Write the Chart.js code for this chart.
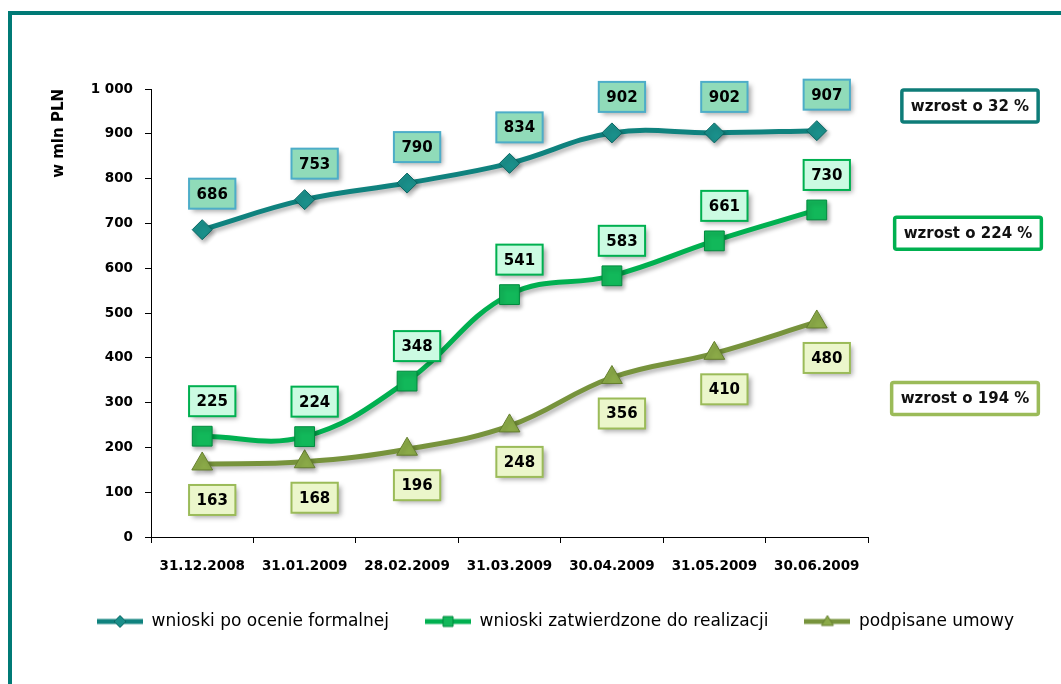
<!DOCTYPE html>
<html lang="pl">
<head>
<meta charset="UTF-8">
<title>Wnioski i umowy</title>
<script src="https://cdn.jsdelivr.net/npm/chart.js@4.4.1/dist/chart.umd.min.js"></script>
<style>
  body { margin: 0; background: #fff; }
  #wrap { position: relative; width: 1061px; height: 684px; overflow: hidden; }
  #frame {
    position: absolute; left: 8px; top: 11px; width: 1100px; height: 700px;
    border-top: 4px solid #007A76; border-left: 4px solid #007A76;
    pointer-events: none;
  }
</style>
</head>
<body>
<div id="wrap">
  <canvas id="chart"></canvas>
  <div id="frame"></div>
</div>
<script>
// data
const dates = ['31.12.2008', '31.01.2009', '28.02.2009', '31.03.2009', '30.04.2009', '31.05.2009', '30.06.2009'];
const seriesNames = ['wnioski po ocenie formalnej', 'wnioski zatwierdzone do realizacji', 'podpisane umowy'];
const formalne = [686, 753, 790, 834, 902, 902, 907];
const zatwierdzone = [225, 224, 348, 541, 583, 661, 730];
const umowy = [163, 168, 196, 248, 356, 410, 480];
const growthTexts = ['wzrost o 32 %', 'wzrost o 224 %', 'wzrost o 194 %'];
const yAxisTitle = 'w mln PLN';

// look of each series
const seriesStyle = [
  { color: '#0F827E', point: 'rectRot', radius: 10, pointFill: '#1A8F8A', pointBorder: '#0B6663',
    labelFill: '#90DBB9', labelBorder: '#4DADC8', labelDy: -36,
    boxBorder: '#0E7C78', boxAt: 962, boxDx: 102 },
  { color: '#00B050', point: 'rect', radius: 14, pointFill: '#12B85A', pointBorder: '#008A3E',
    labelFill: '#CBFBE2', labelBorder: '#00B050', labelDy: -35,
    boxBorder: '#00B050', boxAt: 678, boxDx: 100 },
  { color: '#77933C', point: 'triangle', radius: 12, pointFill: '#8BAA48', pointBorder: '#657F2E',
    labelFill: '#EBF6CB', labelBorder: '#9BBB59', labelDy: 36,
    boxBorder: '#9BBB59', boxAt: 309, boxDx: 97 }
];

const FONT = '"DejaVu Sans", sans-serif';

function fmt(v) {
  return String(v).replace(/\B(?=(\d{3})+(?!\d))/g, ' ');
}

function legendSymbol(st) {
  const c = document.createElement('canvas');
  c.width = 46; c.height = 20;
  const g = c.getContext('2d');
  g.strokeStyle = st.color; g.lineWidth = 5;
  g.beginPath(); g.moveTo(0, 10); g.lineTo(46, 10); g.stroke();
  g.fillStyle = st.pointFill; g.strokeStyle = st.pointBorder; g.lineWidth = 1;
  g.beginPath();
  if (st.point === 'rectRot') {
    g.moveTo(23, 4); g.lineTo(29, 10); g.lineTo(23, 16); g.lineTo(17, 10);
  } else if (st.point === 'rect') {
    g.rect(18, 5, 10, 10);
  } else {
    g.moveTo(23, 4); g.lineTo(29, 14); g.lineTo(17, 14);
  }
  g.closePath(); g.fill(); g.stroke();
  return c;
}

// boxes with values next to the points
const valueLabels = {
  id: 'valueLabels',
  afterDatasetsDraw(chart) {
    const ctx = chart.ctx;
    chart.data.datasets.forEach((ds, i) => {
      const st = seriesStyle[i];
      chart.getDatasetMeta(i).data.forEach((pt, j) => {
        const txt = String(ds.data[j]);
        const cx = pt.x + 10, cy = pt.y + st.labelDy;
        ctx.save();
        ctx.font = 'bold 15px ' + FONT;
        const w = ctx.measureText(txt).width + 15, h = 30;
        ctx.shadowColor = 'rgba(0,0,0,0.35)';
        ctx.shadowBlur = 5; ctx.shadowOffsetX = 3; ctx.shadowOffsetY = 3;
        ctx.fillStyle = st.labelFill;
        ctx.fillRect(cx - w / 2, cy - h / 2, w, h);
        ctx.shadowColor = 'transparent';
        ctx.lineWidth = 2; ctx.strokeStyle = st.labelBorder;
        ctx.strokeRect(cx - w / 2, cy - h / 2, w, h);
        ctx.fillStyle = '#000'; ctx.textAlign = 'center'; ctx.textBaseline = 'middle';
        ctx.fillText(txt, cx, cy + 1);
        ctx.restore();
      });
    });
  }
};

// "wzrost o ..." boxes on the right
const growthBoxes = {
  id: 'growthBoxes',
  afterDraw(chart) {
    const ctx = chart.ctx, y = chart.scales.y, right = chart.chartArea.right;
    growthTexts.forEach((txt, i) => {
      const st = seriesStyle[i];
      const cx = right + st.boxDx, cy = y.getPixelForValue(st.boxAt);
      ctx.save();
      ctx.font = 'bold 15px ' + FONT;
      const w = ctx.measureText(txt).width + 18, h = 32;
      ctx.fillStyle = '#fff';
      ctx.fillRect(cx - w / 2, cy - h / 2, w, h);
      ctx.lineWidth = 3.5; ctx.strokeStyle = st.boxBorder;
      ctx.beginPath();
      ctx.roundRect(cx - w / 2, cy - h / 2, w, h, 2);
      ctx.stroke();
      ctx.fillStyle = '#111'; ctx.textAlign = 'center'; ctx.textBaseline = 'middle';
      ctx.fillText(txt, cx, cy + 1);
      ctx.restore();
    });
  }
};

// soft shadow under lines and markers
const lineShadow = {
  id: 'lineShadow',
  beforeDatasetDraw(chart) {
    const ctx = chart.ctx;
    ctx.save();
    ctx.shadowColor = 'rgba(0,0,0,0.3)';
    ctx.shadowBlur = 4; ctx.shadowOffsetX = 2; ctx.shadowOffsetY = 3;
  },
  afterDatasetDraw(chart) {
    chart.ctx.restore();
  }
};

const allData = [formalne, zatwierdzone, umowy];

const chart = new Chart(document.getElementById('chart'), {
  type: 'line',
  data: {
    labels: dates,
    datasets: allData.map((d, i) => ({
      label: seriesNames[i],
      data: d,
      borderColor: seriesStyle[i].color,
      borderWidth: 5,
      tension: 0.4,
      pointStyle: seriesStyle[i].point,
      pointRadius: seriesStyle[i].radius,
      pointHoverRadius: seriesStyle[i].radius,
      pointBackgroundColor: seriesStyle[i].pointFill,
      pointBorderColor: seriesStyle[i].pointBorder,
      pointBorderWidth: 1,
      clip: false
    }))
  },
  options: {
    responsive: true,
    maintainAspectRatio: false,
    animation: false,
    layout: { padding: { top: 89, left: 50, right: 0, bottom: 44 } },
    plugins: {
      tooltip: { enabled: false },
      legend: {
        position: 'bottom',
        labels: {
          usePointStyle: true,
          pointStyleWidth: 46,
          padding: 36,
          color: '#000',
          font: { family: FONT, size: 17 },
          generateLabels(chart) {
            return chart.data.datasets.map((ds, i) => ({
              text: ds.label,
              pointStyle: legendSymbol(seriesStyle[i]),
              fontColor: '#000',
              lineWidth: 0,
              datasetIndex: i
            }));
          }
        }
      }
    },
    scales: {
      x: {
        offset: true,
        afterFit(scale) { scale.height = 40; },
        grid: { display: true, offset: true, drawOnChartArea: false, tickLength: 6, color: '#000' },
        border: { color: '#000', width: 1 },
        ticks: { color: '#000', padding: 15, font: { family: FONT, size: 13.5, weight: 'bold' } }
      },
      y: {
        min: 0, max: 1000,
        afterFit(scale) { scale.width = 101; },
        grid: { display: true, drawOnChartArea: false, tickLength: 6, color: '#000' },
        border: { color: '#000', width: 1 },
        ticks: {
          stepSize: 100, padding: 12, color: '#000',
          font: { family: FONT, size: 13.5, weight: 'bold' },
          callback: v => fmt(v)
        },
        title: {
          display: true, text: yAxisTitle, align: 'end', color: '#000',
          padding: 0,
          font: { family: FONT, size: 15, weight: 'bold' }
        }
      },
      right: {
        position: 'right',
        display: true,
        afterFit(scale) { scale.width = 193; },
        grid: { display: false },
        border: { display: false },
        ticks: { display: false }
      }
    }
  },
  plugins: [lineShadow, valueLabels, growthBoxes]
});
</script>
</body>
</html>
